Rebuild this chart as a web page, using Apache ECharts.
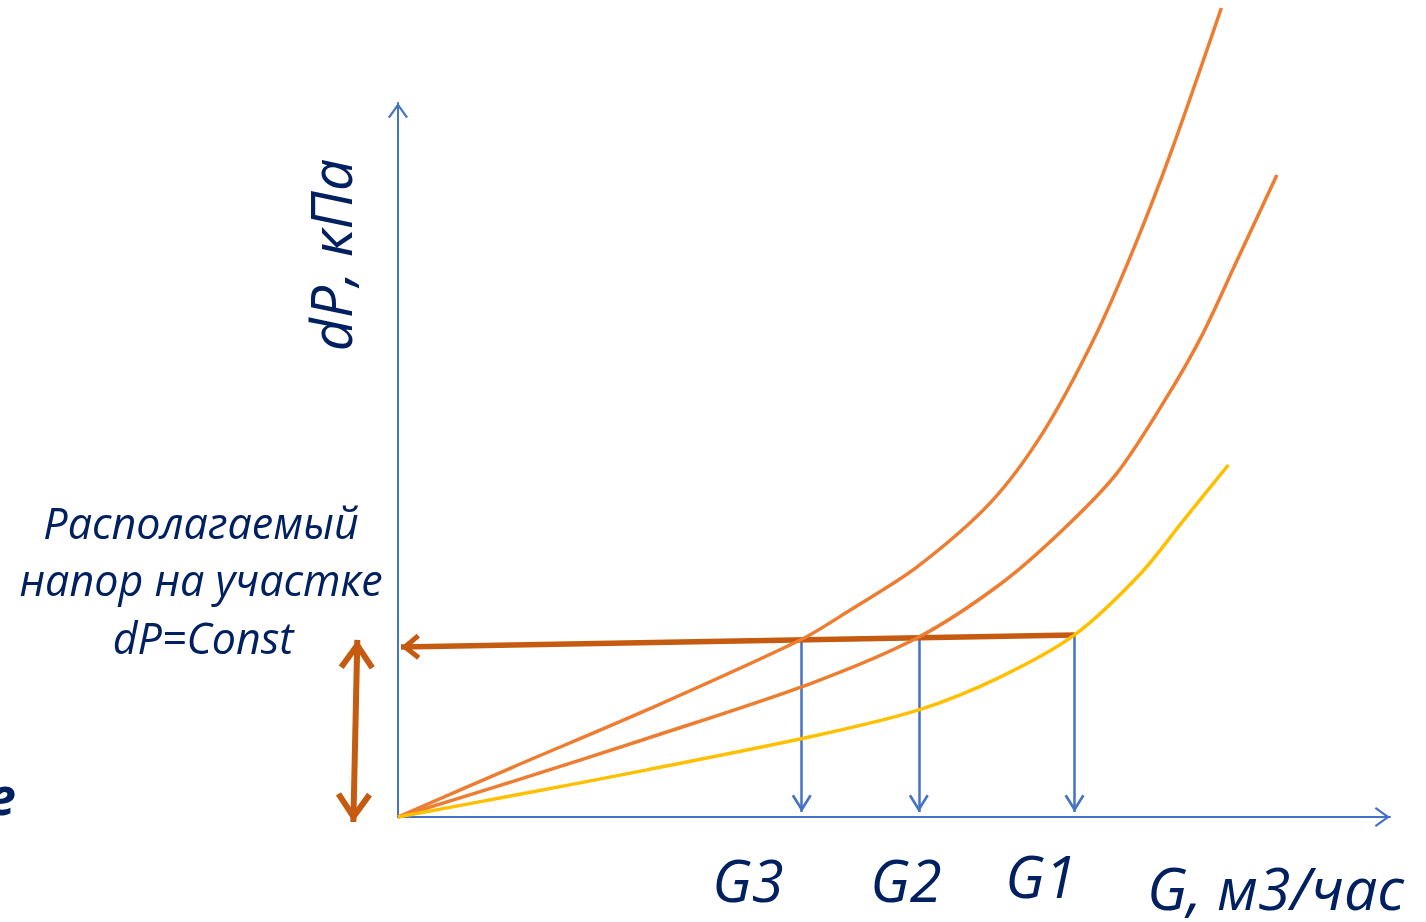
<!DOCTYPE html>
<html><head><meta charset="utf-8">
<script src="https://cdn.jsdelivr.net/npm/echarts@6/dist/echarts.min.js"></script>
<style>html,body{margin:0;padding:0;background:#fff}#c{width:1426px;height:922px}</style>
</head><body><div id="c"></div>
<script>
// ---- data (G in arbitrary units 0..100, dP in arbitrary units 0..100) ----
const curveUpper = [[0,0],[11.6,7.0],[25.1,15.0],[40.7,24.9],[45.6,29.0],[52.3,35.0],[59.7,44.0],[65.0,53.8],[70.1,66.8],[74.1,79.4],[78.0,93.4],[83.0,113.3]];
const curveMiddle = [[0,0],[11.6,5.0],[25.1,11.0],[41.8,18.8],[52.5,25.2],[60.7,32.6],[67.0,40.2],[72.5,48.2],[77.5,58.8],[81.1,67.6],[84.6,78.0],[88.6,89.9]];
const curveLower = [[0,0],[11.6,3.0],[25.1,6.6],[41.8,11.3],[52.5,15.0],[60.7,19.6],[68.2,25.5],[74.8,34.0],[79.1,41.4],[83.7,49.3]];
const dpConstLine = [[68.2,25.5],[0.3,23.8]];
const gValues = [40.7, 52.5, 68.2];
const gTops = [24.9, 25.2, 25.5];
const gBottom = 0.7;
const gLabels = ['G3', 'G2', 'G1'];
const rangeArrow = [[-4.5,-0.7],[-4.1,24.8]];
const xName = 'G, м3/час';
const yName = 'dP, кПа';
const noteLines = ['Располагаемый', 'напор на участке', 'dP=Const'];

// ---- chevron arrow heads (tip at symbol centre) ----
function chevron(a, b, t) {
  const L = Math.hypot(a, b);
  const R = Math.max(a, b + t * a / L) + 1;
  const p = (x, y) => (x + R).toFixed(2) + ',' + (y + R).toFixed(2);
  const ix = a - t * b / L, iy = b + t * a / L;
  const pts = [[0,0],[a,b],[ix,iy],[0,t*L/a],[-ix,iy],[-a,b]];
  return { path: 'path://M' + p(-R,-R) + ' M' + p(R,R) + ' M' + pts.map(q => p(q[0], q[1])).join(' L') + ' Z', size: 2 * R };
}
const axisHead = chevron(10, 14, 2.2);
const gHead = chevron(10, 16, 2.6);
const dpHead = chevron(13, 16, 5);
const rangeHead = chevron(18, 26, 6);

const BLUE = '#4472C4', ORANGE = '#ED7D31', YELLOW = '#FFC000', DARK = '#C55A11', NAVY = '#002060';
const FONT = 'Open Sans';

const chart = echarts.init(document.getElementById('c'), null, {renderer: 'canvas'});
const axisCommon = {
  type: 'value', min: 0, max: 100,
  axisTick: {show: false}, axisLabel: {show: false}, splitLine: {show: false},
  axisLine: {show: true, onZero: false, lineStyle: {color: BLUE, width: 2}, symbol: ['none', axisHead.path], symbolSize: [axisHead.size, axisHead.size]}
};
const txt = (text, x, y, size, extra) => ({
  type: 'text', x: x, y: y, silent: true,
  style: Object.assign({text: text, fill: NAVY, font: 'italic ' + size + 'px "' + FONT + '"', align: 'center', verticalAlign: 'middle'}, extra || {})
});
const curveStyle = {type: 'line', smooth: 0.3, showSymbol: false, clip: false};
chart.setOption({
  animation: false,
  backgroundColor: '#fff',
  grid: {left: 398, right: 36, top: 103, bottom: 105},
  xAxis: axisCommon,
  yAxis: axisCommon,
  series: [
    Object.assign({data: curveUpper, lineStyle: {color: ORANGE, width: 3.5}}, curveStyle),
    Object.assign({data: curveMiddle, lineStyle: {color: ORANGE, width: 3.5}}, curveStyle),
    Object.assign({data: curveLower, lineStyle: {color: YELLOW, width: 3.5}}, curveStyle),
    {type: 'lines', coordinateSystem: 'cartesian2d', clip: false, silent: true,
     data: gValues.map((g, i) => ({coords: [[g, gTops[i]], [g, gBottom]]})),
     symbol: ['none', gHead.path], symbolSize: gHead.size,
     lineStyle: {color: BLUE, width: 2.5, opacity: 1}},
    {type: 'lines', coordinateSystem: 'cartesian2d', clip: false, silent: true,
     data: [{coords: dpConstLine}],
     symbol: ['none', dpHead.path], symbolSize: dpHead.size,
     lineStyle: {color: DARK, width: 5.5, opacity: 1}},
    {type: 'lines', coordinateSystem: 'cartesian2d', clip: false, silent: true,
     data: [{coords: rangeArrow}],
     symbol: [rangeHead.path, rangeHead.path], symbolSize: rangeHead.size,
     lineStyle: {color: DARK, width: 6, opacity: 1}}
  ],
  graphic: [
    Object.assign(txt(yName, 336, 255, 57), {rotation: Math.PI / 2}),
    txt(xName, 1147, 893, 59, {align: 'left'}),
    txt(gLabels[0], 748, 885, 58),
    txt(gLabels[1], 906, 885, 58),
    txt(gLabels[2], 1041, 881, 58),
    txt(noteLines[0], 201, 527, 43),
    txt(noteLines[1], 201, 584, 43),
    txt(noteLines[2], 203, 642, 43),
    txt('е', 16, 800, 52, {font: 'italic bold 52px "' + FONT + '"', align: 'right'})
  ]
});
</script></body></html>
